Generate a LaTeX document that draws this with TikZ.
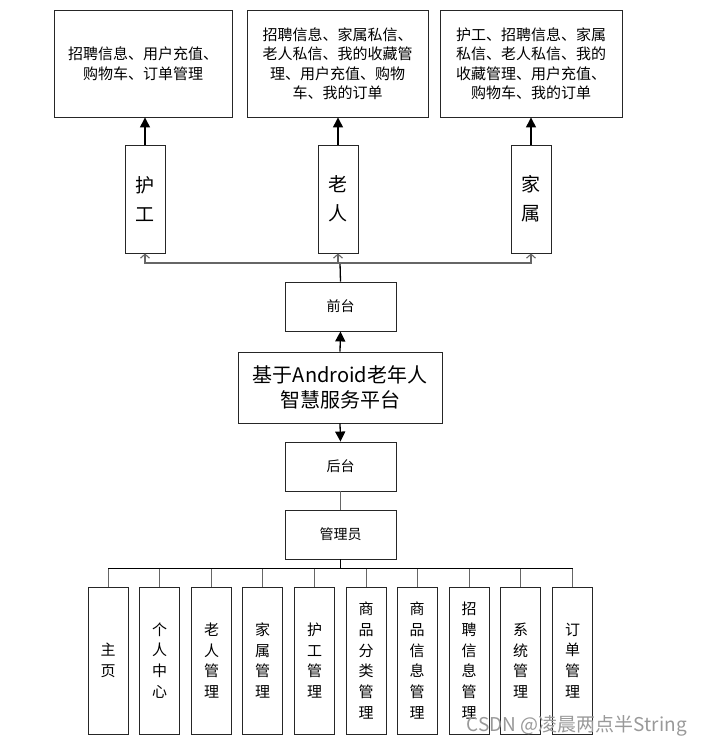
\documentclass[tikz,border=0pt]{standalone}
\usepackage{fontspec}
\setmainfont{Noto Sans CJK SC}
\usetikzlibrary{arrows.meta}
\tikzset{
  box/.style={draw=black!85, line width=0.9pt, fill=white, inner sep=0pt, align=center},
  topbox/.style={box, minimum height=107pt, font=\fontsize{15}{19.5}\selectfont},
  rolebox/.style={box, minimum width=40pt, minimum height=108pt, font=\fontsize{19}{29}\selectfont},
  midbox/.style={box, minimum width=111pt, minimum height=49pt, font=\fontsize{14}{18}\selectfont},
  leafbox/.style={box, minimum width=40pt, minimum height=147pt, font=\fontsize{15}{20.8}\selectfont},
  uparrow/.style={line width=1.3pt, -{Triangle[length=10pt,width=10pt]}},
  openarrow/.style={draw=black!60, line width=1.1pt, -{Straight Barb[length=4pt,width=9pt]}},
  plain/.style={draw=black!60, line width=0.9pt},
  bus/.style={draw=black, line width=1pt}
}
\begin{document}
\begin{tikzpicture}[x=1pt,y=-1pt]
\useasboundingbox (0,0) rectangle (701,746);
% top boxes
\node[topbox, minimum width=178pt] (t1) at (143,63.5) {招聘信息、用户充值、\\购物车、订单管理};
\node[topbox, minimum width=181pt] (t2) at (337.5,63.5) {招聘信息、家属私信、\\老人私信、我的收藏管\\理、用户充值、购物\\车、我的订单};
\node[topbox, minimum width=182pt] (t3) at (531,63.5) {护工、招聘信息、家属\\私信、老人私信、我的\\收藏管理、用户充值、\\购物车、我的订单};
% roles
\node[rolebox] (r1) at (145,199) {护\\工};
\node[rolebox] (r2) at (338,199) {老\\人};
\node[rolebox] (r3) at (531,199) {家\\属};
\draw[uparrow] (r1.north) -- (r1.north |- t1.south);
\draw[uparrow] (r2.north) -- (r2.north |- t2.south);
\draw[uparrow] (r3.north) -- (r3.north |- t3.south);
% middle column
\node[midbox] (qt) at (340.5,306.5) {前台};
\node[box, minimum width=204pt, minimum height=71pt, font=\fontsize{20}{25}\selectfont] (main) at (340,387.5) {基于Android老年人\\智慧服务平台};
\node[midbox] (ht) at (340.5,466.5) {后台};
\node[midbox] (gly) at (340.5,534.5) {管理员};
\coordinate (fork) at (340,263);
\draw[line width=1.3pt] (qt.north) -- (fork);
\draw[openarrow] (fork) -| (r1.south);
\draw[openarrow] (fork) -| (r3.south);
\draw[openarrow] (fork) -- (fork -| r2.south) -- (r2.south);
\draw[uparrow] (main.north) -- (qt.south);
\draw[uparrow] (main.south) -- (ht.north);
\draw[plain] (ht.south) -- (gly.north);
% leaves
\node[leafbox] (l1) at (108,660.5) {主\\页};
\node[leafbox] (l2) at (159.5,660.5) {个\\人\\中\\心};
\node[leafbox] (l3) at (211.5,660.5) {老\\人\\管\\理};
\node[leafbox] (l4) at (262.5,660.5) {家\\属\\管\\理};
\node[leafbox] (l5) at (314.5,660.5) {护\\工\\管\\理};
\node[leafbox] (l6) at (366,660.5) {商\\品\\分\\类\\管\\理};
\node[leafbox] (l7) at (417,660.5) {商\\品\\信\\息\\管\\理};
\node[leafbox] (l8) at (469,660.5) {招\\聘\\信\\息\\管\\理};
\node[leafbox] (l9) at (520.5,660.5) {系\\统\\管\\理};
\node[leafbox] (l10) at (572.5,660.5) {订\\单\\管\\理};
\coordinate (lb) at (340.5,568.5);
\draw[bus] (gly.south) -- (lb);
\draw[bus] (lb -| l1.north) -- (lb -| l10.north);
\foreach \i in {1,...,10} {
  \draw[plain] (lb -| l\i.north) -- (l\i.north);
}
% watermark
\node[anchor=east, text=black!40, font=\fontsize{19}{22}\selectfont, inner sep=0pt] (wm) at (687,726) {CSDN @凌晨两点半String};
\end{tikzpicture}
\end{document}
